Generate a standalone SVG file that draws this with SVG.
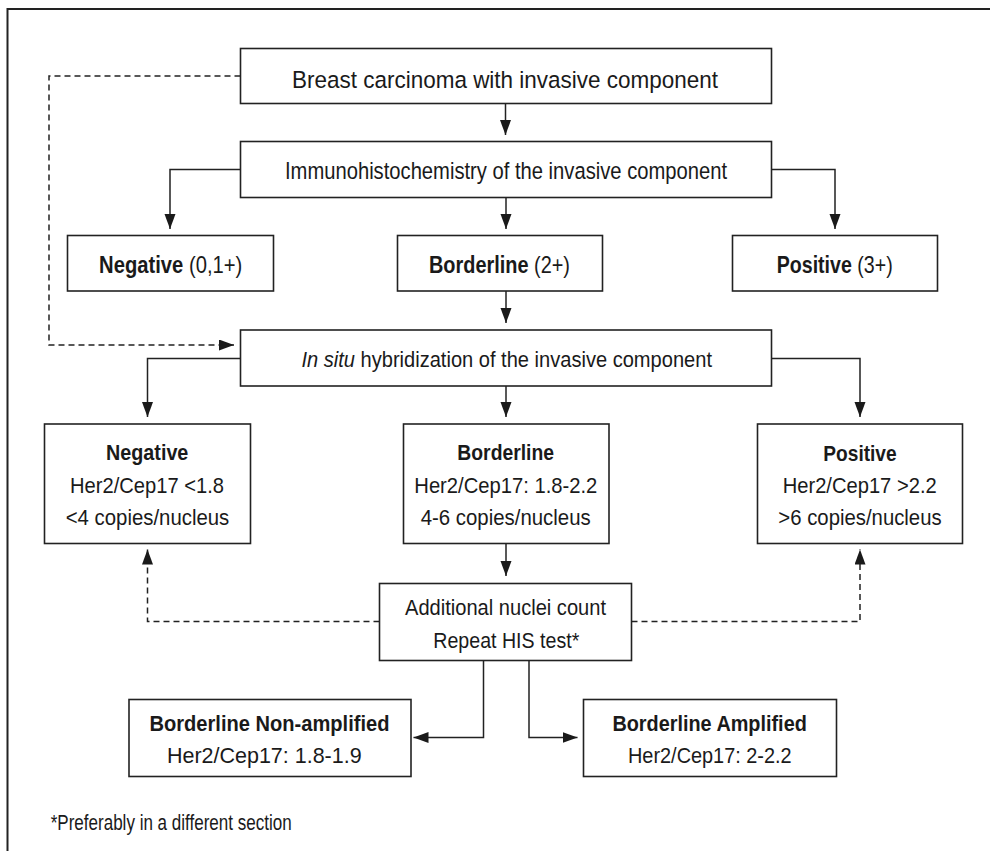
<svg xmlns="http://www.w3.org/2000/svg" width="990" height="851" viewBox="0 0 990 851">
<style>
.box{fill:#fff;stroke:#222;stroke-width:1.6}
.ln{fill:none;stroke:#222;stroke-width:1.5}
.dash{stroke-dasharray:6 4}
text{font-family:"Liberation Sans","Arial",sans-serif;fill:#1a1a1a;text-anchor:middle}
.big{font-size:23.7px}
.mid{font-size:22px}
.sm{font-size:21.4px}
.b{font-weight:bold}
.st{text-anchor:start}
</style>
<defs>
<marker id="ah" markerUnits="userSpaceOnUse" markerWidth="16" markerHeight="12" refX="15" refY="5.5" orient="auto">
<path d="M0,0 L15,5.5 L0,11 Z" fill="#1a1a1a" stroke="none"/>
</marker>
</defs>
<rect x="7.5" y="9" width="1000" height="900" fill="none" stroke="#222" stroke-width="2"/>
<g id="connectors">
<path class="ln" d="M505.5,103.5 V135" marker-end="url(#ah)"/>
<path class="ln" d="M240.5,169.5 H170 V229" marker-end="url(#ah)"/>
<path class="ln" d="M506,197.5 V229" marker-end="url(#ah)"/>
<path class="ln" d="M771.5,169.5 H835 V229" marker-end="url(#ah)"/>
<path class="ln" d="M506,291 V323" marker-end="url(#ah)"/>
<path class="ln dash" d="M240.5,76 H49 V345 H234" marker-end="url(#ah)"/>
<path class="ln" d="M240.5,358.5 H147.5 V417" marker-end="url(#ah)"/>
<path class="ln" d="M506,386 V417" marker-end="url(#ah)"/>
<path class="ln" d="M771.5,358.5 H860 V417" marker-end="url(#ah)"/>
<path class="ln" d="M506,543.5 V576" marker-end="url(#ah)"/>
<path class="ln dash" d="M379.5,621.5 H147.5 V549.5" marker-end="url(#ah)"/>
<path class="ln dash" d="M631.5,621.5 H860 V549.5" marker-end="url(#ah)"/>
<path class="ln" d="M483.5,660.5 V737.5 H413.5" marker-end="url(#ah)"/>
<path class="ln" d="M529,660.5 V737.5 H577.5" marker-end="url(#ah)"/>
</g>
<g id="breast">
<rect class="box" x="240.5" y="48.5" width="531" height="55"/>
<text class="big" x="505" y="87.5" textLength="426" lengthAdjust="spacingAndGlyphs">Breast carcinoma with invasive component</text>
</g>
<g id="ihc">
<rect class="box" x="240.5" y="141.5" width="531" height="56"/>
<text class="big" x="506" y="179.3" textLength="442" lengthAdjust="spacingAndGlyphs">Immunohistochemistry of the invasive component</text>
</g>
<g id="ihc-negative">
<rect class="box" x="67.5" y="235.5" width="206" height="55.5"/>
<text class="big" transform="translate(170.7,273.3) scale(0.853,1)"><tspan class="b">Negative</tspan> (0,1+)</text>
</g>
<g id="ihc-borderline">
<rect class="box" x="397.5" y="235.5" width="205" height="55.5"/>
<text class="big" transform="translate(499.5,273.3) scale(0.84,1)"><tspan class="b">Borderline</tspan> (2+)</text>
</g>
<g id="ihc-positive">
<rect class="box" x="732.5" y="235.5" width="205" height="55.5"/>
<text class="big" transform="translate(834.7,273.3) scale(0.827,1)"><tspan class="b">Positive</tspan> (3+)</text>
</g>
<g id="ish">
<rect class="box" x="240.5" y="330" width="531" height="56"/>
<text class="mid" transform="translate(506.7,367.3) scale(0.913,1)"><tspan font-style="italic">In situ</tspan> hybridization of the invasive component</text>
</g>
<g id="ish-negative">
<rect class="box" x="44.5" y="424" width="206" height="119.5"/>
<text class="sm b" x="147.2" y="460" textLength="82.3" lengthAdjust="spacingAndGlyphs">Negative</text>
<text class="sm" x="147" y="492.5" textLength="154" lengthAdjust="spacingAndGlyphs">Her2/Cep17 &lt;1.8</text>
<text class="sm" x="147.5" y="524.5" textLength="163.6" lengthAdjust="spacingAndGlyphs">&lt;4 copies/nucleus</text>
</g>
<g id="ish-borderline">
<rect class="box" x="403.5" y="424" width="205.5" height="119.5"/>
<text class="sm b" x="505.7" y="460" textLength="96.7" lengthAdjust="spacingAndGlyphs">Borderline</text>
<text class="sm" x="505.8" y="492.5" textLength="183" lengthAdjust="spacingAndGlyphs">Her2/Cep17: 1.8-2.2</text>
<text class="sm" x="505.7" y="524.5" textLength="170" lengthAdjust="spacingAndGlyphs">4-6 copies/nucleus</text>
</g>
<g id="ish-positive">
<rect class="box" x="757.5" y="424" width="205" height="119.5"/>
<text class="sm b" x="860" y="460.5" textLength="73.3" lengthAdjust="spacingAndGlyphs">Positive</text>
<text class="sm" x="859.7" y="493" textLength="154" lengthAdjust="spacingAndGlyphs">Her2/Cep17 &gt;2.2</text>
<text class="sm" x="860" y="525" textLength="163.3" lengthAdjust="spacingAndGlyphs">&gt;6 copies/nucleus</text>
</g>
<g id="additional">
<rect class="box" x="379.5" y="583.5" width="252" height="77"/>
<text class="sm" x="505.5" y="615" textLength="201" lengthAdjust="spacingAndGlyphs">Additional nuclei count</text>
<text class="sm" x="506.3" y="647.7" textLength="146" lengthAdjust="spacingAndGlyphs">Repeat HIS test*</text>
</g>
<g id="borderline-nonamplified">
<rect class="box" x="129" y="699.5" width="282" height="77"/>
<text class="sm b" x="269.5" y="731" textLength="240" lengthAdjust="spacingAndGlyphs">Borderline Non-amplified</text>
<text class="sm" x="264.3" y="762.7" textLength="194.7" lengthAdjust="spacingAndGlyphs">Her2/Cep17: 1.8-1.9</text>
</g>
<g id="borderline-amplified">
<rect class="box" x="583.5" y="699.5" width="253" height="77"/>
<text class="sm b" x="709.6" y="731" textLength="194.4" lengthAdjust="spacingAndGlyphs">Borderline Amplified</text>
<text class="sm" x="709.8" y="762.7" textLength="163.6" lengthAdjust="spacingAndGlyphs">Her2/Cep17: 2-2.2</text>
</g>
<g id="footnote">
<text class="sm st" x="50.7" y="830" textLength="241" lengthAdjust="spacingAndGlyphs">*Preferably in a different section</text>
</g>
</svg>
